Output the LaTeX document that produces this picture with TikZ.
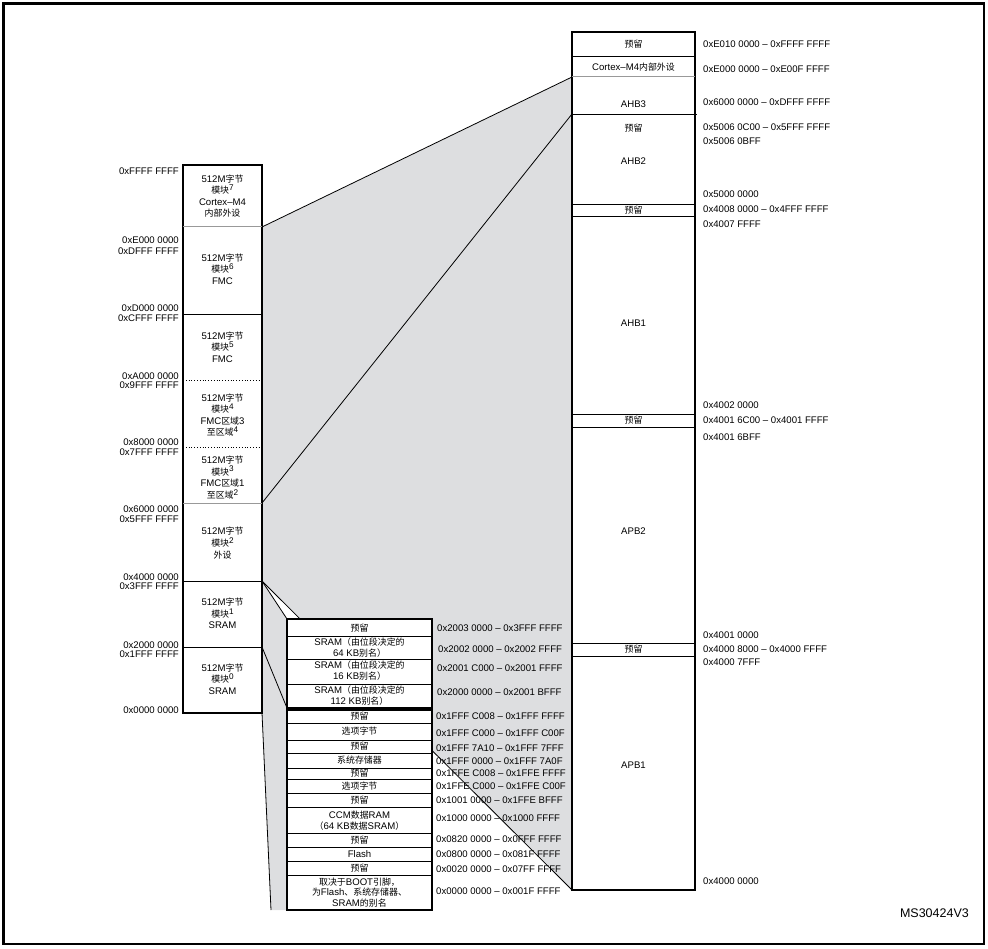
\documentclass[tikz,border=0pt]{standalone}
\usepackage{fontspec}
\setmainfont{Liberation Sans}
\newfontfamily\cjkfont[Scale=0.93]{Noto Sans CJK SC}
\newcommand{\zh}[1]{{\cjkfont #1}}
\newcommand{\sups}[1]{\raisebox{3.2pt}{\fontsize{8.2}{8.2}\selectfont #1}}
\newcommand{\fs}{\fontsize{9.6}{11.6}\selectfont}
\newcommand{\fst}{\fontsize{9.6}{10.8}\selectfont}
\definecolor{fillgray}{RGB}{221,222,224}
\begin{document}
\begin{tikzpicture}[x=1pt,y=-1pt,
  every node/.style={inner sep=0pt, font=\fs, text=black},
  frame/.style={line width=2.4pt},
  boxline/.style={line width=1.8pt},
  rowline/.style={line width=0.8pt},
  grayrow/.style={line width=1pt, draw=gray!80},
  dotrow/.style={line width=0.8pt, dotted},
  diag/.style={line width=0.8pt},
  addrl/.style={anchor=east},
  addrr/.style={anchor=west},
  cell/.style={align=center, anchor=center},
  tcell/.style={align=center, anchor=center, font=\fst}]
\useasboundingbox (0,0) rectangle (988,949);
\draw[frame] (3.5,3.5) rectangle (984,944);

% ---------- key coordinates ----------
\coordinate (LTL) at (183,165);
\coordinate (LBR) at (262,713);
\coordinate (L7) at (262,227);
\coordinate (L3) at (262,503);
\coordinate (L2) at (262,581);
\coordinate (L1) at (262,647);
\coordinate (L0) at (262,713);
\coordinate (RTL) at (572,32);
\coordinate (RBR) at (695,890);
\coordinate (R77) at (572,77);
\coordinate (R114) at (572,114);
\coordinate (R890) at (572,890);
\coordinate (UTL) at (287,619);
\coordinate (UBR) at (432,708);
\coordinate (UBL) at (287,708);
\coordinate (DTL) at (287,710);
\coordinate (DBR) at (432,910);
\coordinate (DBL) at (287,910);
\coordinate (D0) at (271,910);

% ---------- gray expansion areas ----------
\fill[fillgray] (L7) -- (R77) -- (R890) -- (L2) -- cycle;
\fill[fillgray] (L2) -- (UTL) -- (DBL) -- (D0) -- (L0) -- cycle;
\draw[diag] (L7) -- (R77);
\draw[diag] (L3) -- (R114);
\draw[diag] (L2) -- (R890);
\draw[diag] (L2) -- (UTL);
\draw[diag] (L1) -- (UBL);
\draw[diag] (L0) -- (D0);

% ---------- left column ----------
\draw[boxline, fill=white] (LTL) rectangle (LBR);
\draw[grayrow] (183,227) -- (262,227);
\draw[rowline] (183,314) -- (262,314);
\draw[dotrow] (183,380) -- (262,380);
\draw[dotrow] (183,447) -- (262,447);
\draw[grayrow] (183,503) -- (262,503);
\draw[rowline] (183,581) -- (262,581);
\draw[rowline] (183,647) -- (262,647);

\node[cell] (b7) at (222.5,196) {512M\zh{字节}\\\zh{模块}\sups{7}\\Cortex–M4\\\zh{内部外设}};
\node[cell] (b6) at (222.5,269) {512M\zh{字节}\\\zh{模块}\sups{6}\\FMC};
\node[cell] (b5) at (222.5,347) {512M\zh{字节}\\\zh{模块}\sups{5}\\FMC};
\node[cell] (b4) at (222.5,415) {512M\zh{字节}\\\zh{模块}\sups{4}\\FMC\zh{区域}3\\\zh{至区域}\sups{4}};
\node[cell] (b3) at (222.5,477.5) {512M\zh{字节}\\\zh{模块}\sups{3}\\FMC\zh{区域}1\\\zh{至区域}\sups{2}};
\node[cell] (b2) at (222.5,543) {512M\zh{字节}\\\zh{模块}\sups{2}\\\zh{外设}};
\node[cell] (b1) at (222.5,613.5) {512M\zh{字节}\\\zh{模块}\sups{1}\\SRAM};
\node[cell] (b0) at (222.5,679) {512M\zh{字节}\\\zh{模块}\sups{0}\\SRAM};

\node[addrl] (la1) at (179,171) {0xFFFF FFFF};
\node[addrl] (la2) at (179,240) {0xE000 0000};
\node[addrl] (la3) at (179,251) {0xDFFF FFFF};
\node[addrl] (la4) at (179,308) {0xD000 0000};
\node[addrl] (la5) at (179,318) {0xCFFF FFFF};
\node[addrl] (la6) at (179,376) {0xA000 0000};
\node[addrl] (la7) at (179,385) {0x9FFF FFFF};
\node[addrl] (la8) at (179,442) {0x8000 0000};
\node[addrl] (la9) at (179,452) {0x7FFF FFFF};
\node[addrl] (la10) at (179,509) {0x6000 0000};
\node[addrl] (la11) at (179,519) {0x5FFF FFFF};
\node[addrl] (la12) at (179,577) {0x4000 0000};
\node[addrl] (la13) at (179,586) {0x3FFF FFFF};
\node[addrl] (la14) at (179,645) {0x2000 0000};
\node[addrl] (la15) at (179,654) {0x1FFF FFFF};
\node[addrl] (la16) at (179,710) {0x0000 0000};

% ---------- right column ----------
\draw[boxline, fill=white] (RTL) rectangle (RBR);
\draw[rowline] (572,56) -- (695,56);
\draw[grayrow] (572,77) -- (695,77);
\draw[rowline] (R114) -- (697,114);
\draw[rowline] (572,204) -- (695,204);
\draw[rowline] (572,216) -- (695,216);
\draw[rowline] (572,414) -- (695,414);
\draw[rowline] (572,427) -- (695,427);
\draw[rowline] (572,643) -- (695,643);
\draw[rowline] (572,656) -- (695,656);

\node[cell] (r1) at (633.5,44) {\zh{预留}};
\node[cell] (r2) at (633.5,67) {Cortex–M4\zh{内部外设}};
\node[cell] (r3) at (633.5,104) {AHB3};
\node[cell] (r4) at (633.5,128) {\zh{预留}};
\node[cell] (r5) at (633.5,161) {AHB2};
\node[cell] (r6) at (633.5,210) {\zh{预留}};
\node[cell] (r7) at (633.5,323) {AHB1};
\node[cell] (r8) at (633.5,420.5) {\zh{预留}};
\node[cell] (r9) at (633.5,531) {APB2};
\node[cell] (r10) at (633.5,649.5) {\zh{预留}};
\node[cell] (r11) at (633.5,765) {APB1};

\node[addrr] (ra1) at (703,44) {0xE010 0000 – 0xFFFF FFFF};
\node[addrr] (ra2) at (703,69) {0xE000 0000 – 0xE00F FFFF};
\node[addrr] (ra3) at (703,102) {0x6000 0000 – 0xDFFF FFFF};
\node[addrr] (ra4) at (703,127) {0x5006 0C00 – 0x5FFF FFFF};
\node[addrr] (ra5) at (703,141) {0x5006 0BFF};
\node[addrr] (ra6) at (703,194) {0x5000 0000};
\node[addrr] (ra7) at (703,209) {0x4008 0000 – 0x4FFF FFFF};
\node[addrr] (ra8) at (703,224) {0x4007 FFFF};
\node[addrr] (ra9) at (703,405) {0x4002 0000};
\node[addrr] (ra10) at (703,420) {0x4001 6C00 – 0x4001 FFFF};
\node[addrr] (ra11) at (703,437) {0x4001 6BFF};
\node[addrr] (ra12) at (703,635) {0x4001 0000};
\node[addrr] (ra13) at (703,649) {0x4000 8000 – 0x4000 FFFF};
\node[addrr] (ra14) at (703,662) {0x4000 7FFF};
\node[addrr] (ra15) at (703,881) {0x4000 0000};

% ---------- upper SRAM table ----------
\draw[boxline, fill=white] (UTL) rectangle (UBR);
\draw[rowline] (287,636) -- (432,636);
\draw[rowline] (287,659) -- (432,659);
\draw[rowline] (287,684) -- (432,684);
\node[cell] (u1) at (359.5,628) {\zh{预留}};
\node[tcell] (u2) at (359.5,648) {SRAM\zh{（由位段决定的}\\64 KB\zh{别名）}};
\node[tcell] (u3) at (359.5,671) {SRAM\zh{（由位段决定的}\\16 KB\zh{别名）}};
\node[tcell] (u4) at (359.5,696) {SRAM\zh{（由位段决定的}\\112 KB\zh{别名）}};
\node[addrr] (ua1) at (437,628) {0x2003 0000 – 0x3FFF FFFF};
\node[addrr] (ua2) at (438,649) {0x2002 0000 – 0x2002 FFFF};
\node[addrr] (ua3) at (437,668) {0x2001 C000 – 0x2001 FFFF};
\node[addrr] (ua4) at (437,692) {0x2000 0000 – 0x2001 BFFF};

% ---------- lower table ----------
\draw[boxline, fill=white] (DTL) rectangle (DBR);
\foreach \yy in {723,740,753,768,779,793,807,833,847,861,875}
  \draw[rowline] (287,\yy) -- (432,\yy);
\node[cell] (d1) at (359.5,716.5) {\zh{预留}};
\node[cell] (d2) at (359.5,731.5) {\zh{选项字节}};
\node[cell] (d3) at (359.5,746.5) {\zh{预留}};
\node[cell] (d4) at (359.5,760.5) {\zh{系统存储器}};
\node[cell] (d5) at (359.5,773.5) {\zh{预留}};
\node[cell] (d6) at (359.5,786) {\zh{选项字节}};
\node[cell] (d7) at (359.5,800) {\zh{预留}};
\node[tcell] (d8) at (359.5,821) {CCM\zh{数据}RAM\\\zh{（}64 KB\zh{数据}SRAM\zh{）}};
\node[cell] (d9) at (359.5,840) {\zh{预留}};
\node[cell] (d10) at (359.5,854) {Flash};
\node[cell] (d11) at (359.5,868) {\zh{预留}};
\node[tcell] (d12) at (359.5,892.5) {\zh{取决于}BOOT\zh{引脚，}\\\zh{为}Flash\zh{、系统存储器、}\\SRAM\zh{的别名}};

\node[addrr] (da1) at (436,716) {0x1FFF C008 – 0x1FFF FFFF};
\node[addrr] (da2) at (436,733) {0x1FFF C000 – 0x1FFF C00F};
\node[addrr] (da3) at (436,748) {0x1FFF 7A10 – 0x1FFF 7FFF};
\node[addrr] (da4) at (436,761) {0x1FFF 0000 – 0x1FFF 7A0F};
\node[addrr] (da5) at (436,773) {0x1FFE C008 – 0x1FFE FFFF};
\node[addrr] (da6) at (436,786) {0x1FFE C000 – 0x1FFE C00F};
\node[addrr] (da7) at (436,800) {0x1001 0000 – 0x1FFE BFFF};
\node[addrr] (da8) at (436,818) {0x1000 0000 – 0x1000 FFFF};
\node[addrr] (da9) at (436,839) {0x0820 0000 – 0x0FFF FFFF};
\node[addrr] (da10) at (436,854) {0x0800 0000 – 0x081F FFFF};
\node[addrr] (da11) at (436,869) {0x0020 0000 – 0x07FF FFFF};
\node[addrr] (da12) at (436,891) {0x0000 0000 – 0x001F FFFF};

\node[anchor=east, font=\fontsize{12.5}{14}\selectfont] (code) at (969,913) {MS30424V3};
\end{tikzpicture}
\end{document}
